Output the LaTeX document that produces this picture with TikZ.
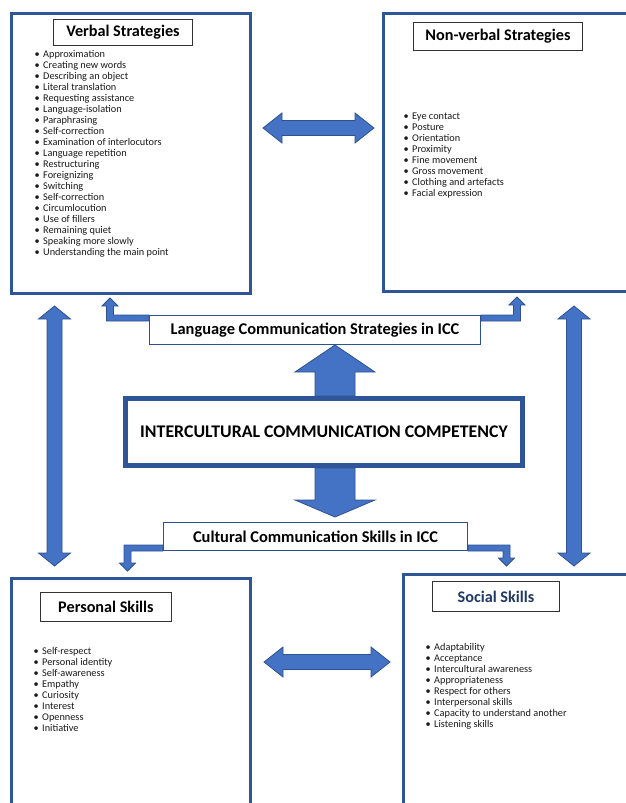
\documentclass[tikz,border=0pt]{standalone}
\usepackage{fontspec}
\setmainfont{Carlito}
\usetikzlibrary{arrows,calc,positioning,shapes}

\definecolor{boxblue}{HTML}{2F5597}
\definecolor{arrowblue}{HTML}{4472C4}
\definecolor{arrowline}{HTML}{2F528F}
\definecolor{navyblue}{HTML}{1F3864}

\pgfdeclarelayer{background}
\pgfsetlayers{background,main}

\newcommand{\bul}{\makebox[8.5pt][l]{\textbullet}}

% block arrows between named points
\newcommand{\twowayh}[2]{%
  \draw [block arrow] let \p1=(#1), \p2=(#2) in
    (\p1) -- (\x1+19pt,\y1+15pt) -- (\x1+19pt,\y1+7.5pt) -- (\x2-19pt,\y1+7.5pt) -- (\x2-19pt,\y1+15pt) -- (\p2)
    -- (\x2-19pt,\y1-15pt) -- (\x2-19pt,\y1-7.5pt) -- (\x1+19pt,\y1-7.5pt) -- (\x1+19pt,\y1-15pt) -- cycle;}
\newcommand{\twowayv}[2]{%
  \draw [block arrow] let \p1=(#1), \p2=(#2) in
    (\p1) -- (\x1+16pt,\y1-13pt) -- (\x1+7.5pt,\y1-13pt) -- (\x1+7.5pt,\y2+13pt) -- (\x1+16pt,\y2+13pt) -- (\p2)
    -- (\x1-16pt,\y2+13pt) -- (\x1-7.5pt,\y2+13pt) -- (\x1-7.5pt,\y1-13pt) -- (\x1-16pt,\y1-13pt) -- cycle;}
\newcommand{\bigarrow}[3]{%
  \draw [block arrow] let \p1=(#1), \p2=(#2) in
    (\x1-20pt,\y1) -- ({\x1-20pt},{\y2+(#3)}) -- ({\x1-40pt},{\y2+(#3)}) -- (\p2)
    -- ({\x1+40pt},{\y2+(#3)}) -- ({\x1+20pt},{\y2+(#3)}) -- (\x1+20pt,\y1) -- cycle;}
\newcommand{\bentarrow}[4]{%
  \draw [block arrow] let \p1=(#1), \p2=(#2) in
    (\p1) -- ({\x2+(#3)*3.5pt},\y1) -- ({\x2+(#3)*3.5pt},{\y2+(#4)*8pt}) -- ({\x2+(#3)*8pt},{\y2+(#4)*8pt}) -- (\p2)
    -- ({\x2-(#3)*8pt},{\y2+(#4)*8pt}) -- ({\x2-(#3)*3.5pt},{\y2+(#4)*8pt}) -- ({\x2-(#3)*3.5pt},{\y1+(#4)*6pt})
    -- (\x1,{\y1+(#4)*6pt}) -- cycle;}

\tikzset{
  outer box/.style={draw=boxblue, line width=3pt, anchor=north west, inner sep=0pt},
  title box/.style={draw=black!80, line width=0.9pt, anchor=north west, font=\bfseries\fontsize{16.2}{18}\selectfont},
  item list/.style={anchor=north west, align=left, inner sep=0pt, text=black!90, font=\fontsize{10.3}{11}\selectfont},
  label box/.style={draw=arrowline, line width=1pt, fill=white, anchor=north west, font=\bfseries\fontsize{16.4}{18}\selectfont},
  block arrow/.style={fill=arrowblue, draw=arrowline, line width=0.8pt},
}

\begin{document}
\begin{tikzpicture}[x=1pt, y=-1pt]
	\useasboundingbox (0,0) rectangle (626,803);
	\clip (0,0) rectangle (626,803);

	% Place boxes
	\node [outer box, minimum width=239pt, minimum height=280pt] (verbal) at (10,12) {};
	\node [outer box, minimum width=260pt, minimum height=278pt] (nonverbal) at (382,12) {};
	\node [outer box, minimum width=239pt, minimum height=260pt] (personal) at (10,577) {};
	\node [outer box, minimum width=260pt, minimum height=260pt] (social) at (402,573) {};

	\node [draw=boxblue, line width=5pt, anchor=north west, minimum width=397pt, minimum height=67pt,
		font=\bfseries\fontsize{17.8}{19}\selectfont] (icc) at (123,396) {INTERCULTURAL COMMUNICATION COMPETENCY};
	\node [label box, minimum width=331pt, minimum height=29pt] (lang) at (149,315) {Language Communication Strategies in ICC};
	\node [label box, minimum width=304pt, minimum height=28pt] (cult) at (163,522) {Cultural Communication Skills in ICC};

	% Titles
	\node [title box, minimum width=139pt, minimum height=26pt] (verbal title) at (53,19) {Verbal Strategies};
	\node [title box, minimum width=169pt, minimum height=28pt] (nonverbal title) at (413,22) {Non-verbal Strategies};
	\node [title box, minimum width=131pt, minimum height=29pt] (personal title) at (40,592) {Personal Skills};
	\node [title box, minimum width=127pt, minimum height=30pt, text=navyblue] (social title) at (432,581) {Social Skills};

	% Lists
	\node [item list] (verbal list) at (34.5,50.6) {\bul Approximation\\ \bul Creating new words\\ \bul Describing an object\\
		\bul Literal translation\\ \bul Requesting assistance\\ \bul Language-isolation\\ \bul Paraphrasing\\
		\bul Self-correction\\ \bul Examination of interlocutors\\ \bul Language repetition\\ \bul Restructuring\\
		\bul Foreignizing\\ \bul Switching\\ \bul Self-correction\\ \bul Circumlocution\\ \bul Use of fillers\\
		\bul Remaining quiet\\ \bul Speaking more slowly\\ \bul Understanding the main point};
	\node [item list] (nonverbal list) at (403.5,112.6) {\bul Eye contact\\ \bul Posture\\ \bul Orientation\\ \bul Proximity\\
		\bul Fine movement\\ \bul Gross movement\\ \bul Clothing and artefacts\\ \bul Facial expression};
	\node [item list] (personal list) at (33.5,647.6) {\bul Self-respect\\ \bul Personal identity\\ \bul Self-awareness\\
		\bul Empathy\\ \bul Curiosity\\ \bul Interest\\ \bul Openness\\ \bul Initiative};
	\node [item list] (social list) at (425.5,643.6) {\bul Adaptability\\ \bul Acceptance\\ \bul Intercultural awareness\\
		\bul Appropriateness\\ \bul Respect for others\\ \bul Interpersonal skills\\ \bul Capacity to understand another\\
		\bul Listening skills};

	% Arrow ends
	\coordinate (top left tip) at ($(verbal.north east)+(11,116)$);
	\coordinate (top right tip) at ($(nonverbal.north west)+(-8,116)$);
	\coordinate (bottom left tip) at ($(personal.north east)+(12,85)$);
	\coordinate (bottom right tip) at ($(social.north west)+(-12,89)$);
	\coordinate (left up tip) at ($(verbal.south west)+(44.5,11)$);
	\coordinate (left down tip) at ($(personal.north west)+(44.5,-11)$);
	\coordinate (right up tip) at ($(nonverbal.south west)+(192,13)$);
	\coordinate (right down tip) at ($(social.north west)+(172,-7)$);
	\coordinate (up foot) at ($(icc.north)+(11,0)$);
	\coordinate (up tip) at ($(lang.south)+(20,0)$);
	\coordinate (down foot) at ($(icc.south)+(11,0)$);
	\coordinate (down tip) at ($(cult.north)+(19.5,-5)$);
	\coordinate (verbal tip) at ($(verbal.south west)+(100,3)$);
	\coordinate (nonverbal tip) at ($(nonverbal.south west)+(135,4)$);
	\coordinate (personal tip) at ($(personal.north west)+(117.5,-6)$);
	\coordinate (social tip) at ($(social.north west)+(104.5,-7)$);

	% Draw arrows
	\begin{pgfonlayer}{background}
		\twowayh{top left tip}{top right tip}
		\twowayh{bottom left tip}{bottom right tip}
		\twowayv{left up tip}{left down tip}
		\twowayv{right up tip}{right down tip}
		\bigarrow{up foot}{up tip}{-27pt}
		\bigarrow{down foot}{down tip}{17pt}
		\bentarrow{lang.north west}{verbal tip}{1}{-1}
		\bentarrow{lang.north east}{nonverbal tip}{-1}{-1}
		\bentarrow{cult.south west}{personal tip}{1}{1}
		\bentarrow{cult.south east}{social tip}{-1}{1}
	\end{pgfonlayer}
\end{tikzpicture}
\end{document}
